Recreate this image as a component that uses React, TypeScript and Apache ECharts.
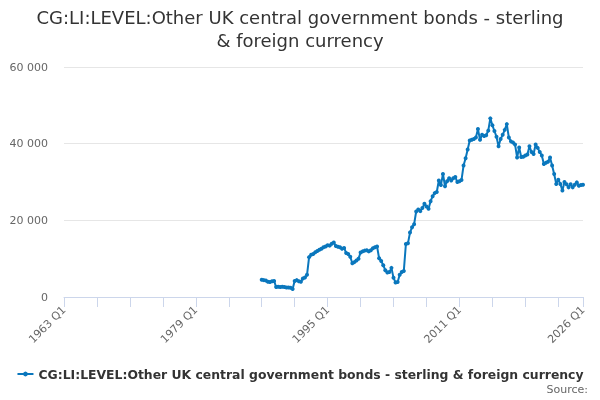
import React, { useEffect, useRef } from "react";
import * as echarts from "echarts";

const TITLE = "CG:LI:LEVEL:Other UK central government bonds - sterling\n& foreign currency";
const SERIES_NAME = "CG:LI:LEVEL:Other UK central government bonds - sterling & foreign currency";

const FIRST_YEAR = 1963;
const LAST_YEAR = 2026;
const quarterNames = ["Q1", "Q2", "Q3", "Q4"];

// categories: 1963 Q1 .. 2026 Q1
const categories: string[] = [];
for (let y = FIRST_YEAR; y <= LAST_YEAR; y++) {
  for (const q of quarterNames) {
    if (y === LAST_YEAR && q !== "Q1") break;
    categories.push(`${y} ${q}`);
  }
}

// series starts at 1987 Q1
const seriesStart = "1987 Q1";
const values: number[] = [
  4500, 4400, 4300, 4000, // 1987
  3900, 4100, 4200, 2600, // 1988
  2700, 2600, 2700, 2600, // 1989
  2500, 2500, 2400, 2100, // 1990
  4200, 4400, 4100, 4000, // 1991
  4850, 5100, 5800, 10400, // 1992
  11000, 11200, 11700, 12000, // 1993
  12300, 12600, 13000, 13200, // 1994
  13500, 13400, 13900, 14200, // 1995
  13300, 13100, 13000, 12600, // 1996
  12800, 11500, 11200, 10500, // 1997
  8800, 9100, 9500, 10000, // 1998
  11600, 11900, 12100, 12200, // 1999
  11900, 12200, 12700, 13000, // 2000
  13200, 10100, 9400, 8300, // 2001
  7000, 6400, 6500, 7600, // 2002
  5000, 3800, 3900, 5800, // 2003
  6500, 6800, 13800, 14000, // 2004
  16800, 18200, 19000, 22300, // 2005
  22800, 22400, 23200, 24300, // 2006
  23600, 23000, 25000, 26300, // 2007
  27100, 27400, 30400, 29200, // 2008
  32100, 28900, 30200, 31000, // 2009
  30400, 31000, 31300, 30000, // 2010
  30200, 30500, 34300, 36200, // 2011
  38500, 40800, 41000, 41200, // 2012
  41600, 43800, 41000, 42300, // 2013
  42000, 42200, 43400, 46600, // 2014
  44800, 43300, 41800, 39300, // 2015
  41200, 42300, 43600, 45100, // 2016
  41600, 40600, 40300, 39800, // 2017
  36400, 39000, 36500, 36600, // 2018
  36900, 37200, 39300, 37800, // 2019
  37300, 39800, 38900, 37800, // 2020
  36900, 34700, 35000, 35300, // 2021
  36400, 34300, 32100, 29500, // 2022
  30600, 29500, 27800, 30000, // 2023
  29400, 28600, 29400, 28600, // 2024
  29300, 29900, 29000, 29200, // 2025
  29300, // 2026 Q1
];

const yTicks = [0, 20000, 40000, 60000];

const startIdx = categories.indexOf(seriesStart);
const seriesData: (number | null)[] = categories.map((_, i) =>
  i >= startIdx && i - startIdx < values.length ? values[i - startIdx] : null
);

const fmt = (v: number) => String(v).replace(/\B(?=(\d{3})+(?!\d))/g, " ");

export default function App() {
  const ref = useRef<HTMLDivElement>(null);
  useEffect(() => {
    if (!ref.current) return;
    const chart = echarts.init(ref.current, undefined, { renderer: "svg" });
    const lastIdx = categories.length - 1;
    chart.setOption({
      animation: false,
      textStyle: { fontFamily: "DejaVu Sans" },
      title: {
        text: TITLE,
        left: "center",
        top: 1,
        textStyle: {
          fontSize: 18,
          fontWeight: "normal",
          color: "#333333",
          lineHeight: 23,
          fontFamily: "DejaVu Sans",
        },
      },
      grid: { left: 64, right: 17, top: 67, bottom: 103, containLabel: false },
      xAxis: {
        type: "category",
        data: categories,
        boundaryGap: false,
        axisLine: { lineStyle: { color: "#ccd6eb" } },
        axisTick: {
          length: 10,
          lineStyle: { color: "#ccd6eb" },
          interval: (i: number) => i % 16 === 0 || i === lastIdx,
        },
        axisLabel: {
          rotate: 45,
          color: "#666666",
          fontSize: 11,
          margin: 11,
          interval: (i: number) => i % 64 === 0 || i === lastIdx,
        },
        splitLine: { show: false },
      },
      yAxis: {
        type: "value",
        min: 0,
        max: yTicks[yTicks.length - 1],
        interval: yTicks[1] - yTicks[0],
        axisLine: { show: false },
        axisTick: { show: false },
        axisLabel: {
          color: "#666666",
          fontSize: 11,
          margin: 16,
          formatter: (v: number) => fmt(v),
        },
        splitLine: { lineStyle: { color: "#e6e6e6" } },
      },
      legend: {
        data: [SERIES_NAME],
        left: "center",
        top: 363,
        itemWidth: 16,
        itemHeight: 6,
        itemGap: 6,
        textStyle: { fontSize: 12.4, fontWeight: "bold", color: "#333333", fontFamily: "DejaVu Sans" },
      },
      graphic: [
        {
          type: "text",
          right: 12,
          top: 384,
          style: { text: "Source:", fontSize: 11, fill: "#666666", fontFamily: "DejaVu Sans" },
        },
      ],
      series: [
        {
          name: SERIES_NAME,
          type: "line",
          data: seriesData,
          connectNulls: false,
          symbol: "circle",
          symbolSize: 4,
          showSymbol: true,
          showAllSymbol: true,
          lineStyle: { width: 2, color: "#0a77bd" },
          itemStyle: { color: "#0a77bd" },
        },
      ],
    });
    return () => chart.dispose();
  }, []);
  return (
    <div
      ref={ref}
      style={{ position: "fixed", left: 0, top: 0, width: 600, height: 400 }}
    />
  );
}
